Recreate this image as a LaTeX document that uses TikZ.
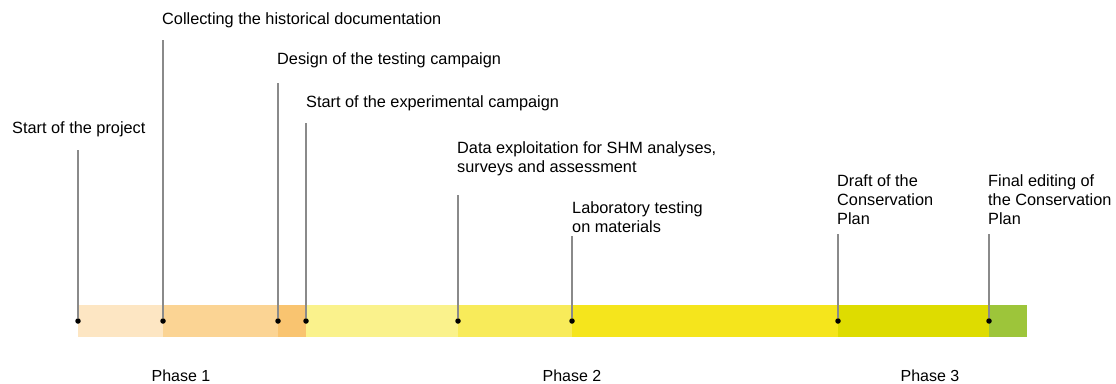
\documentclass[tikz,border=0pt]{standalone}
\usepackage{fontspec}
\setmainfont{Liberation Sans}
\definecolor{segA}{HTML}{FDE6C3}
\definecolor{segB}{HTML}{FBD494}
\definecolor{segC}{HTML}{F9C470}
\definecolor{segD}{HTML}{FAF28C}
\definecolor{segE}{HTML}{F8EB5A}
\definecolor{segF}{HTML}{F5E51C}
\definecolor{segG}{HTML}{DEDC00}
\definecolor{segH}{HTML}{9DC53A}
\definecolor{tick}{HTML}{8A8A8A}
\tikzset{
  lbl/.style={anchor=west,inner sep=0pt,align=left,font=\fontsize{16.3}{18.8}\selectfont},
  phase/.style={inner sep=0pt,font=\fontsize{16}{19}\selectfont},
  milestone/.style={circle,fill=black,inner sep=0pt,minimum size=5.5pt},
  stem/.style={draw=tick,line width=1.1pt}
}
\begin{document}
\begin{tikzpicture}[x=1pt,y=-1pt]
      \useasboundingbox (0,0) rectangle (1116,383);
      % bar segments
      \fill[segA] (78,305) rectangle (163,337);
      \fill[segB] (163,305) rectangle (278,337);
      \fill[segC] (278,305) rectangle (306,337);
      \fill[segD] (306,305) rectangle (458,337);
      \fill[segE] (458,305) rectangle (572,337);
      \fill[segF] (572,305) rectangle (838,337);
      \fill[segG] (838,305) rectangle (989,337);
      \fill[segH] (989,305) rectangle (1027,337);
      % labels
      \draw
        (12,129) node[lbl] (l1){Start of the project}
        (162,20) node[lbl] (l2){Collecting the historical documentation}
        (277,60) node[lbl] (l3){Design of the testing campaign}
        (306,103) node[lbl] (l4){Start of the experimental campaign}
        (457,158.5) node[lbl] (l5){Data exploitation for SHM analyses,\\surveys and assessment}
        (572,217.5) node[lbl] (l6){Laboratory testing\\on materials}
        (837,199.5) node[lbl] (l7){Draft of the\\Conservation\\Plan}
        (988,199.5) node[lbl] (l8){Final editing of\\the Conservation\\Plan};
      % stem tops
      \coordinate (t1) at (78,150);
      \coordinate (t2) at (163,40);
      \coordinate (t3) at (278,83);
      \coordinate (t4) at (306,123);
      \coordinate (t5) at (458,195);
      \coordinate (t6) at (572,236);
      \coordinate (t7) at (838,234);
      \coordinate (t8) at (989,234);
      % milestones
      \draw
        (78,321) node[milestone] (d1){}
        (163,321) node[milestone] (d2){}
        (278,321) node[milestone] (d3){}
        (306,321) node[milestone] (d4){}
        (458,321) node[milestone] (d5){}
        (572,321) node[milestone] (d6){}
        (838,321) node[milestone] (d7){}
        (989,321) node[milestone] (d8){};
      \begin{scope}[stem]
        \draw (t1) to (d1);
        \draw (t2) to (d2);
        \draw (t3) to (d3);
        \draw (t4) to (d4);
        \draw (t5) to (d5);
        \draw (t6) to (d6);
        \draw (t7) to (d7);
        \draw (t8) to (d8);
      \end{scope}
      % phases
      \draw
        (181,376) node[phase] (p1){Phase 1}
        (572,376) node[phase] (p2){Phase 2}
        (930,376) node[phase] (p3){Phase 3};
    \end{tikzpicture}
\end{document}
